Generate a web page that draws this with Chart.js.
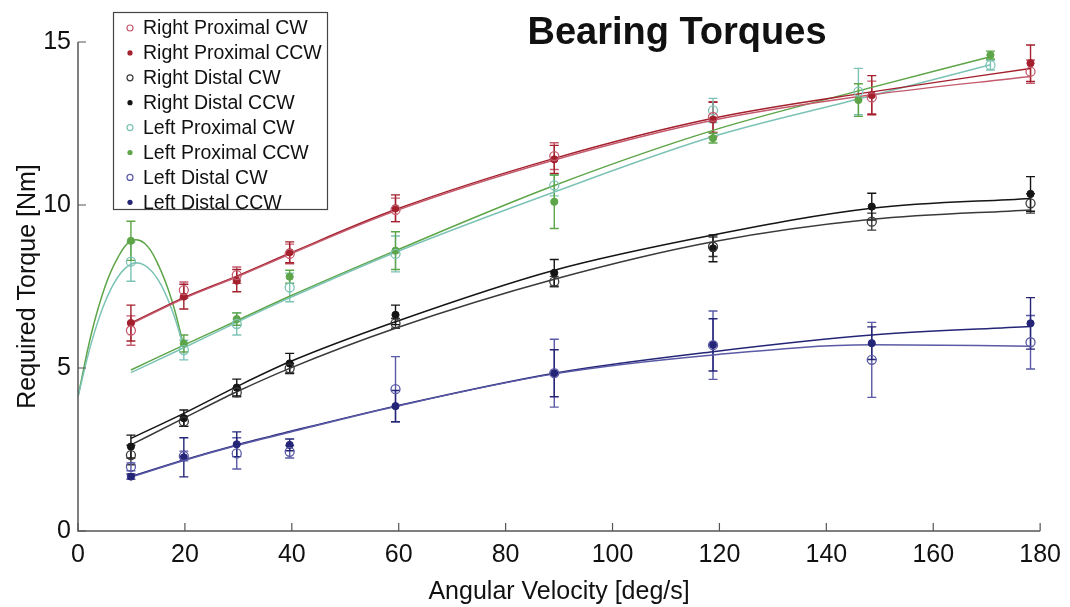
<!DOCTYPE html>
<html>
<head>
<meta charset="utf-8">
<title>Bearing Torques</title>
<script src="https://cdn.jsdelivr.net/npm/chart.js@4.4.1/dist/chart.umd.min.js"></script>
<style>
  html, body { margin: 0; padding: 0; background: #ffffff; }
  #wrap { position: relative; width: 1070px; height: 607px; }
</style>
</head>
<body>
<div id="wrap"><canvas id="torque" width="1070" height="607"></canvas></div>
<script>
// Angular velocities of the measured runs [deg/s]
const velocities = [9.9, 19.8, 29.7, 39.6, 59.4, 89.1, 118.8, 148.5, 178.2];
const leftProxVelocities = [9.9, 19.8, 29.7, 39.6, 59.4, 89.1, 118.8, 146.0, 170.7];
const lowSpeedVelocities = [0, 2.5, 5, 7.5, 10, 12.5, 15, 17.5, 19.8];

// Mean required torque [Nm]
const rightProxCW  = [6.15, 7.39, 7.85, 8.50, 9.85, 11.50, 12.70, 13.30, 14.09];
const rightProxCCW = [6.38, 7.19, 7.68, 8.55, 9.90, 11.40, 12.62, 13.37, 14.35];
const rightDistCW  = [2.33, 3.36, 4.25, 4.99, 6.37, 7.65, 8.72, 9.49, 10.05];
const rightDistCCW = [2.59, 3.46, 4.40, 5.14, 6.63, 7.92, 8.67, 9.95, 10.34];
const leftProxCW   = [8.26, 5.55, 6.35, 7.47, 8.50, 10.60, 12.90, 13.48, 14.29];
const leftProxCCW  = [8.90, 5.75, 6.50, 7.80, 8.60, 10.10, 12.05, 13.22, 14.60];
const leftDistCW   = [1.97, 2.30, 2.38, 2.43, 4.35, 4.84, 5.70, 5.25, 5.79];
const leftDistCCW  = [1.67, 2.26, 2.66, 2.64, 3.83, 4.84, 5.71, 5.76, 6.37];

// Standard deviation of each mean [Nm]
const rightProxCWErr  = [0.45, 0.25, 0.25, 0.30, 0.36, 0.41, 0.47, 0.50, 0.36];
const rightProxCCWErr = [0.55, 0.38, 0.34, 0.32, 0.41, 0.43, 0.53, 0.60, 0.56];
const rightDistCWErr  = [0.30, 0.15, 0.13, 0.14, 0.15, 0.16, 0.30, 0.26, 0.30];
const rightDistCCWErr = [0.35, 0.25, 0.26, 0.31, 0.30, 0.41, 0.41, 0.41, 0.53];
const leftProxCWErr   = [0.60, 0.30, 0.34, 0.44, 0.55, 0.32, 0.37, 0.71, 0.15];
const leftProxCCWErr  = [0.60, 0.26, 0.19, 0.20, 0.58, 0.82, 0.15, 0.50, 0.12];
const leftDistCWErr   = [0.12, 0.15, 0.48, 0.19, 1.00, 1.04, 1.05, 1.15, 0.82];
const leftDistCCWErr  = [0.08, 0.60, 0.38, 0.18, 0.48, 0.72, 0.80, 0.50, 0.79];

// Fitted trend curves [Nm]
const rightProxCWFit  = [6.35, 7.13, 7.79, 8.49, 9.82, 11.38, 12.60, 13.38, 13.94];
const rightProxCCWFit = [6.38, 7.16, 7.82, 8.52, 9.86, 11.43, 12.66, 13.47, 14.19];
const rightDistCWFit  = [2.64, 3.46, 4.27, 4.99, 6.22, 7.72, 8.87, 9.56, 9.85];
const rightDistCCWFit = [2.84, 3.61, 4.43, 5.19, 6.42, 8.00, 9.08, 9.90, 10.20];
const leftProxCWFit   = [4.86, 5.62, 6.40, 7.15, 8.55, 10.40, 12.10, 13.25, 14.30];
const leftProxCCWFit  = [4.94, 5.70, 6.45, 7.20, 8.60, 10.60, 12.29, 13.50, 14.55];
const leftDistCWFit   = [1.65, 2.16, 2.62, 3.03, 3.82, 4.82, 5.40, 5.71, 5.67];
const leftDistCCWFit  = [1.67, 2.18, 2.64, 3.05, 3.83, 4.84, 5.50, 6.01, 6.27];
const leftProxCWLowFit  = [4.12, 5.77, 7.00, 7.80, 8.19, 8.15, 7.70, 6.82, 5.64];
const leftProxCCWLowFit = [4.12, 6.05, 7.47, 8.40, 8.90, 8.82, 8.17, 7.10, 5.67];

// Axis ticks
const xTicks = [0, 20, 40, 60, 80, 100, 120, 140, 160, 180];
const yTicks = [0, 5, 10, 15];

const FONT = "'Liberation Sans', Arial, Helvetica, sans-serif";

function pts(xs, ys) { return xs.map((x, i) => ({ x: x, y: ys[i] })); }

function measured(label, xs, ys, errs, color, open) {
  return {
    label: label,
    data: pts(xs, ys),
    errors: errs,
    showLine: false,
    pointStyle: 'circle',
    pointRadius: open ? 4.5 : 3.6,
    pointBorderWidth: open ? 1.3 : 1,
    pointBorderColor: color,
    pointBackgroundColor: open ? 'rgba(255,255,255,0)' : color,
    borderColor: color,
    backgroundColor: color,
    hollow: open,
    order: 1
  };
}

function fitted(xs, ys, color, smoothPeak) {
  const ds = {
    label: '',
    isFit: true,
    data: pts(xs, ys),
    showLine: true,
    pointRadius: 0,
    borderWidth: 1.5,
    borderColor: color,
    backgroundColor: color,
    fill: false,
    order: 2
  };
  if (smoothPeak) {
    ds.tension = 0.4;
  } else {
    ds.cubicInterpolationMode = 'monotone';
  }
  return ds;
}

const C = {
  rpCW: '#c45a6e', rpCCW: '#a3202c',
  rdCW: '#3a3a3a', rdCCW: '#151515',
  lpCW: '#7cc3b6', lpCCW: '#5da548',
  ldCW: '#5a5aa6', ldCCW: '#252578'
};

const datasets = [
  measured('Right Proximal CW',  velocities, rightProxCW,  rightProxCWErr,  C.rpCW,  true),
  measured('Right Proximal CCW', velocities, rightProxCCW, rightProxCCWErr, C.rpCCW, false),
  measured('Right Distal CW',    velocities, rightDistCW,  rightDistCWErr,  C.rdCW,  true),
  measured('Right Distal CCW',   velocities, rightDistCCW, rightDistCCWErr, C.rdCCW, false),
  measured('Left Proximal CW',   leftProxVelocities, leftProxCW,  leftProxCWErr,  C.lpCW,  true),
  measured('Left Proximal CCW',  leftProxVelocities, leftProxCCW, leftProxCCWErr, C.lpCCW, false),
  measured('Left Distal CW',     velocities, leftDistCW,  leftDistCWErr,  C.ldCW,  true),
  measured('Left Distal CCW',    velocities, leftDistCCW, leftDistCCWErr, C.ldCCW, false),
  fitted(velocities, rightProxCWFit,  C.rpCW),
  fitted(velocities, rightProxCCWFit, C.rpCCW),
  fitted(velocities, rightDistCWFit,  C.rdCW),
  fitted(velocities, rightDistCCWFit, C.rdCCW),
  fitted(leftProxVelocities, leftProxCWFit,  C.lpCW),
  fitted(leftProxVelocities, leftProxCCWFit, C.lpCCW),
  fitted(lowSpeedVelocities, leftProxCWLowFit,  C.lpCW, true),
  fitted(lowSpeedVelocities, leftProxCCWLowFit, C.lpCCW, true),
  fitted(velocities, leftDistCWFit,  C.ldCW),
  fitted(velocities, leftDistCCWFit, C.ldCCW)
];

// Vertical error bars with caps, placed through the chart scales
const errorBars = {
  id: 'errorBars',
  beforeDatasetsDraw(chart) {
    const { ctx, scales: { x, y } } = chart;
    ctx.save();
    chart.data.datasets.forEach((ds) => {
      if (!ds.errors) return;
      ctx.strokeStyle = ds.borderColor;
      ctx.lineWidth = 1.4;
      ds.data.forEach((p, i) => {
        const e = ds.errors[i];
        const px = x.getPixelForValue(p.x);
        const top = y.getPixelForValue(p.y + e);
        const bot = y.getPixelForValue(p.y - e);
        ctx.beginPath();
        ctx.moveTo(px, top); ctx.lineTo(px, bot);
        ctx.moveTo(px - 4.5, top); ctx.lineTo(px + 4.5, top);
        ctx.moveTo(px - 4.5, bot); ctx.lineTo(px + 4.5, bot);
        ctx.stroke();
      });
    });
    ctx.restore();
  }
};

// Left and bottom axis lines with inward tick marks
const axesFrame = {
  id: 'axesFrame',
  afterDraw(chart) {
    const { ctx, chartArea: a, scales: { x, y } } = chart;
    ctx.save();
    ctx.strokeStyle = '#555';
    ctx.lineWidth = 1.5;
    ctx.beginPath();
    ctx.moveTo(a.left, y.getPixelForValue(15));
    ctx.lineTo(a.left, a.bottom);
    ctx.lineTo(x.getPixelForValue(180), a.bottom);
    ctx.stroke();
    ctx.lineWidth = 1.2;
    ctx.beginPath();
    xTicks.forEach((v) => {
      const px = x.getPixelForValue(v);
      ctx.moveTo(px, a.bottom); ctx.lineTo(px, a.bottom - 8);
    });
    yTicks.forEach((v) => {
      const py = y.getPixelForValue(v);
      ctx.moveTo(a.left, py); ctx.lineTo(a.left + 8, py);
    });
    ctx.stroke();
    ctx.restore();
  }
};

// Heading and boxed legend inside the plot
const decorations = {
  id: 'decorations',
  afterDraw(chart) {
    const { ctx } = chart;
    ctx.save();
    ctx.fillStyle = '#111';
    ctx.font = 'bold 38px ' + FONT;
    ctx.textAlign = 'center';
    ctx.textBaseline = 'alphabetic';
    ctx.fillText('Bearing Torques', 677, 44);

    const box = { x: 113, y: 12, w: 214, h: 197 };
    ctx.fillStyle = '#ffffff';
    ctx.fillRect(box.x, box.y, box.w, box.h);
    ctx.strokeStyle = '#444';
    ctx.lineWidth = 1.2;
    ctx.strokeRect(box.x + 0.5, box.y + 0.5, box.w, box.h);

    ctx.font = '19.5px ' + FONT;
    ctx.textAlign = 'left';
    ctx.textBaseline = 'middle';
    chart.data.datasets.filter((d) => !d.isFit).forEach((d, i) => {
      const cy = box.y + 16 + i * 24.9;
      ctx.beginPath();
      if (d.hollow) {
        ctx.arc(130, cy, 3, 0, Math.PI * 2);
        ctx.strokeStyle = d.borderColor;
        ctx.lineWidth = 1.2;
        ctx.stroke();
      } else {
        ctx.arc(130, cy, 2.6, 0, Math.PI * 2);
        ctx.fillStyle = d.borderColor;
        ctx.fill();
      }
      ctx.fillStyle = '#111';
      ctx.fillText(d.label, 143, cy + 1);
    });
    ctx.restore();
  }
};

new Chart(document.getElementById('torque'), {
  type: 'scatter',
  data: { datasets: datasets },
  options: {
    responsive: false,
    animation: false,
    events: [],
    layout: { padding: { top: 42, right: 27, left: 0, bottom: 0 } },
    plugins: {
      legend: { display: false },
      tooltip: { enabled: false },
      title: { display: false }
    },
    scales: {
      x: {
        type: 'linear',
        min: 0, max: 180,
        afterFit(s) { s.height = 76; },
        afterBuildTicks(s) { s.ticks = xTicks.map((v) => ({ value: v })); },
        grid: { display: false, drawTicks: false },
        border: { display: false },
        ticks: { padding: 9, color: '#111', font: { family: FONT, size: 25 } },
        title: {
          display: true, text: 'Angular Velocity [deg/s]', color: '#111',
          font: { family: FONT, size: 25 }, padding: { top: 0, bottom: 0 }
        }
      },
      y: {
        type: 'linear',
        min: 0, max: 15,
        afterFit(s) { s.width = 78; },
        afterBuildTicks(s) { s.ticks = yTicks.map((v) => ({ value: v })); },
        grid: { display: false, drawTicks: false },
        border: { display: false },
        ticks: { padding: 7, color: '#111', font: { family: FONT, size: 25 } },
        title: {
          display: true, text: 'Required Torque [Nm]', color: '#111',
          font: { family: FONT, size: 25 }, padding: { top: 13, bottom: 0 }
        }
      }
    }
  },
  plugins: [errorBars, axesFrame, decorations]
});
</script>
</body>
</html>
